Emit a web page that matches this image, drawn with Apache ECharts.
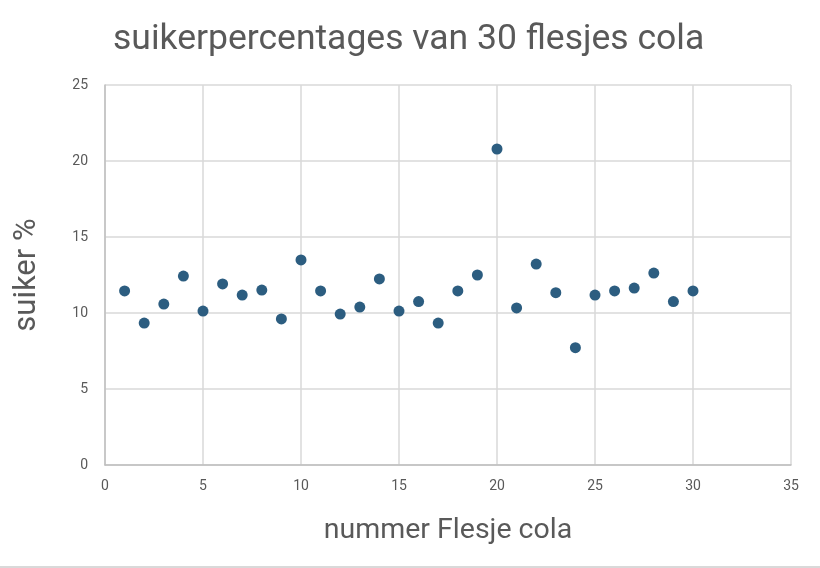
<!DOCTYPE html>
<html>
<head>
<meta charset="utf-8">
<script src="https://cdn.jsdelivr.net/npm/echarts@6/dist/echarts.min.js"></script>
<style>
html,body{margin:0;padding:0;background:#fff;}
#c{width:820px;height:568px;}
</style>
</head>
<body>
<div id="c"></div>
<script>
const flesjes = [1,2,3,4,5,6,7,8,9,10,11,12,13,14,15,16,17,18,19,20,21,22,23,24,25,26,27,28,29,30];
const suiker = [11.45,9.34,10.59,12.43,10.13,11.91,11.18,11.51,9.61,13.49,11.45,9.93,10.39,12.24,10.13,10.75,9.34,11.45,12.5,20.79,10.33,13.22,11.34,7.72,11.18,11.45,11.64,12.63,10.75,11.45];
const titleText = 'suikerpercentages van 30 flesjes cola';
const xTitle = 'nummer Flesje cola';
const yTitle = 'suiker %';

const chart = echarts.init(document.getElementById('c'));
const font = 'Roboto, "Open Sans", sans-serif';
chart.setOption({
  animation: false,
  title: {
    text: titleText,
    left: 108, top: 17,
    textStyle: { fontFamily: font, fontSize: 35.5, fontWeight: 'normal', color: '#595959' }
  },
  grid: { left: 105, right: 29, top: 85, bottom: 103, containLabel: false },
  xAxis: {
    type: 'value', min: 0, max: 35, interval: 5,
    name: xTitle, nameLocation: 'middle', nameGap: 51,
    nameTextStyle: { fontFamily: font, fontSize: 28.5, color: '#595959' },
    axisLine: { show: true, lineStyle: { color: '#bfbfbf', width: 1.5 } },
    axisTick: { show: false },
    axisLabel: { fontFamily: font, fontSize: 14, color: '#595959', margin: 14 },
    splitLine: { show: true, lineStyle: { color: '#d9d9d9', width: 1.5 } }
  },
  yAxis: {
    type: 'value', min: 0, max: 25, interval: 5,
    name: yTitle, nameLocation: 'middle', nameGap: 62, nameRotate: 90,
    nameTextStyle: { fontFamily: font, fontSize: 31, color: '#595959' },
    axisLine: { show: true, lineStyle: { color: '#bfbfbf', width: 1.5 } },
    axisTick: { show: false },
    axisLabel: { fontFamily: font, fontSize: 14, color: '#595959', margin: 17 },
    splitLine: { show: true, lineStyle: { color: '#d9d9d9', width: 1.5 } }
  },
  series: [{
    type: 'scatter',
    data: flesjes.map((x, i) => [x, suiker[i]]),
    symbolSize: 11,
    itemStyle: { color: '#2c5d80', opacity: 1 }
  }],
  graphic: [{
    type: 'rect', left: 0, top: 566, shape: { width: 820, height: 2 },
    style: { fill: '#d9d9d9' }
  }]
});
</script>
</body>
</html>
